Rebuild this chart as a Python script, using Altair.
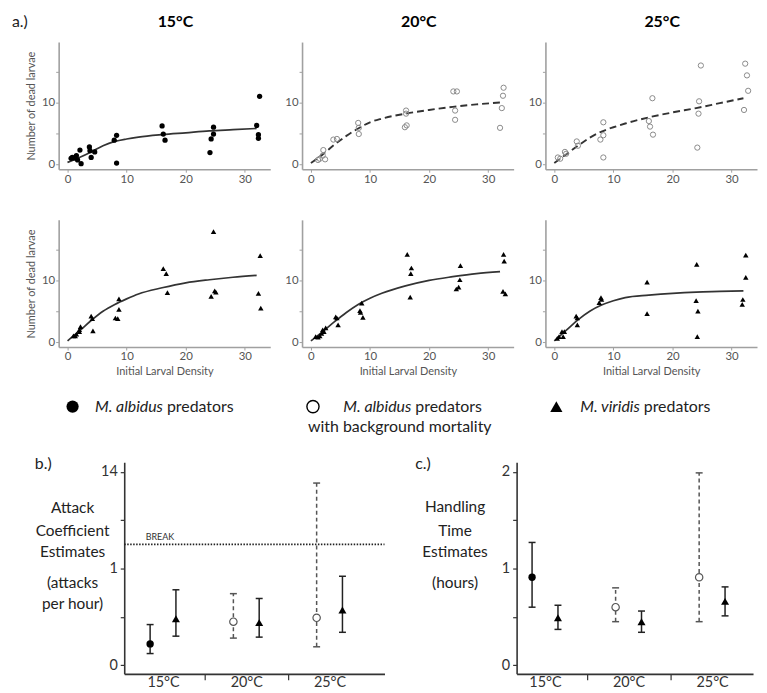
import altair as alt
import pandas as pd

FONT = "Lato"
AX = "#a0a0a0"
LAB = "#555555"
DARK = "#222222"

# ---------------- panel a: functional response data ----------------
curve_x = [0, 2, 4, 6, 8, 10, 12, 16, 20, 24, 28, 32]

a15_x = [0.6, 0.8, 1.1, 1.5, 1.7, 2.1, 2.3, 3.7, 3.8, 4.0, 4.6, 7.9, 8.3, 8.3,
         16.0, 16.2, 16.5, 24.1, 24.3, 24.7, 24.7, 32.5, 32.0, 32.3, 32.3]
a15_y = [0.97, 1.1, 1.0, 1.4, 0.7, 2.3, 0.1, 2.8, 2.2, 1.1, 2.0, 3.9, 4.7, 0.2,
         6.2, 4.9, 3.9, 1.9, 4.1, 6.0, 4.9, 11.0, 6.3, 4.8, 4.2]
a15_curve = [0.3, 1.1, 2.0, 3.0, 3.7, 4.1, 4.4, 4.8, 5.1, 5.4, 5.6, 5.8]

a20_x = [1.2, 1.5, 2.0, 2.1, 2.4, 3.8, 4.4, 8.0, 8.1, 8.1, 15.9, 16.2, 16.1, 16.1,
         24.1, 24.7, 24.4, 24.4, 32.0, 32.3, 32.5, 32.6]
a20_y = [0.7, 0.9, 1.4, 2.3, 0.8, 4.0, 4.1, 6.7, 5.9, 4.9, 6.0, 6.3, 8.7, 8.2,
         11.8, 11.8, 8.7, 7.2, 5.9, 9.1, 11.1, 12.4]
a20_curve = [0.2, 1.6, 3.2, 4.6, 5.8, 6.8, 7.4, 8.2, 8.8, 9.3, 9.7, 10.0]

a25_x = [0.6, 1.0, 1.8, 2.0, 3.8, 4.0, 7.8, 8.3, 8.3, 8.3, 16.0, 16.2, 16.7, 16.6,
         24.2, 24.4, 24.5, 24.8, 32.1, 32.3, 32.6, 32.8]
a25_y = [1.1, 0.9, 2.0, 1.7, 3.7, 3.0, 4.0, 6.8, 4.7, 1.1, 7.0, 6.1, 4.8, 10.7,
         2.7, 8.2, 10.2, 16.0, 8.8, 16.3, 14.4, 11.9]
a25_curve = [0.2, 1.6, 3.0, 4.3, 5.3, 6.0, 6.6, 7.6, 8.4, 9.1, 9.9, 10.7]

v15_x = [1.0, 1.3, 1.5, 2.0, 2.2, 2.0, 4.0, 4.2, 4.3, 8.1, 8.5, 8.7, 8.7,
         16.2, 16.7, 16.9, 24.3, 24.9, 25.1, 24.7, 32.6, 32.3, 32.7]
v15_y = [1.0, 1.0, 1.3, 2.0, 2.5, 1.7, 4.2, 3.8, 1.8, 3.9, 3.8, 7.0, 5.3,
         11.9, 11.1, 8.0, 7.4, 8.3, 8.1, 17.9, 14.0, 7.9, 5.5]
v15_curve = [0.2, 1.8, 3.5, 5.0, 6.1, 7.0, 7.8, 8.8, 9.6, 10.1, 10.5, 10.8]

v20_x = [0.8, 1.2, 1.5, 1.8, 2.0, 2.2, 2.5, 4.2, 4.4, 4.6, 8.3, 8.4, 8.6, 8.8,
         16.3, 17.0, 16.9, 16.8, 24.6, 25.0, 25.2, 25.3, 32.6, 32.7, 32.5, 32.9]
v20_y = [0.9, 0.8, 1.0, 1.4, 2.0, 1.7, 2.3, 4.1, 3.9, 2.8, 5.1, 4.8, 6.3, 4.0,
         14.2, 12.0, 11.1, 7.3, 8.6, 8.9, 10.1, 12.4, 14.2, 13.1, 8.2, 7.8]
v20_curve = [0.2, 1.7, 3.3, 4.8, 6.1, 7.1, 7.9, 9.1, 10.0, 10.6, 11.1, 11.4]

v25_x = [0.5, 0.8, 1.3, 1.5, 1.7, 3.7, 3.9, 3.9, 7.6, 7.9, 8.0, 15.7, 15.7,
         24.1, 24.0, 24.3, 24.2, 32.4, 32.4, 31.9, 31.8]
v25_y = [0.6, 0.9, 1.7, 0.9, 1.7, 4.2, 3.9, 2.8, 6.4, 7.2, 6.9, 9.7, 4.6,
         12.6, 6.7, 5.0, 0.9, 14.1, 10.5, 6.9, 6.1]
v25_curve = [0.2, 1.9, 3.6, 5.0, 6.0, 6.7, 7.2, 7.6, 7.9, 8.1, 8.2, 8.3]

# ---------------- panels b / c: estimates ----------------
temps = ["15°C", "20°C", "25°C"]
# M. albidus predators (filled circle) - 15°C only
alb_temp = ["15°C"]
atk_alb = [0.22]; atk_alb_lo = [0.12]; atk_alb_hi = [0.42]
hnd_alb = [0.91]; hnd_alb_lo = [0.60]; hnd_alb_hi = [1.27]
# M. albidus with background mortality (open circle) - 20, 25°C
bg_temp = ["20°C", "25°C"]
atk_bg = [0.45, 0.49]; atk_bg_lo = [0.28, 0.19]; atk_bg_hi = [0.74, 12.5]
hnd_bg = [0.60, 0.91]; hnd_bg_lo = [0.45, 0.45]; hnd_bg_hi = [0.80, 1.99]
# M. viridis predators (triangle)
vir_temp = ["15°C", "20°C", "25°C"]
atk_vir = [0.48, 0.44, 0.57]; atk_vir_lo = [0.30, 0.29, 0.34]; atk_vir_hi = [0.78, 0.69, 0.92]
hnd_vir = [0.49, 0.45, 0.66]; hnd_vir_lo = [0.37, 0.34, 0.51]; hnd_vir_hi = [0.62, 0.56, 0.81]

BREAK_POS = 1.25   # axis position of the break line
DODGE = 0.155

one = pd.DataFrame({"k": [0]})


def txt(text, x, y, size=15.0, style="normal", weight="normal", align="left",
        baseline="alphabetic", color=DARK):
    return alt.Chart(one).mark_text(
        text=text, fontSize=size, fontStyle=style, fontWeight=weight, align=align,
        baseline=baseline, color=color, font=FONT
    ).encode(x=alt.value(x), y=alt.value(y))


def sp(w, h):
    return alt.Chart(one).mark_point(opacity=0).encode(
        x=alt.value(0), y=alt.value(0)).properties(width=w, height=h)


def a_panel(px, py, cy, kind, title, ylab=False, xlab=False, dashed=False, extra=None):
    pts = pd.DataFrame({"x": px, "y": py})
    cur = pd.DataFrame({"x": curve_x, "y": cy})
    xsc = alt.Scale(domain=[-1.5, 34.3], nice=False, zero=False)
    ysc = alt.Scale(domain=[-0.8, 19.8], nice=False, zero=False)
    common = dict(domainColor=AX, domainWidth=1.6, tickColor=AX, tickWidth=1, tickSize=3,
                  labelColor=LAB, labelFontSize=11.5, labelFont=FONT, grid=False,
                  labelPadding=1, titleFont=FONT, titleFontSize=11, titleColor=LAB,
                  titleFontWeight="normal")
    xax = dict(common, values=[0, 10, 20, 30], title=None)
    if xlab:
        xax.update(title="Initial Larval Density", titlePadding=3)
    yax = dict(common, values=[0, 5, 10, 15], title=None,
               labelExpr="datum.value == 5 || datum.value == 15 ? '' : datum.label")
    if ylab:
        yax.update(title="Number of dead larvae", titleAngle=270, titleX=-27, titleY=64,
                   titleAlign="center", titleBaseline="middle")
    lkw = dict(color="#333333", strokeWidth=1.7, interpolate="monotone")
    if dashed:
        lkw.update(strokeDash=[7, 4], strokeWidth=1.9)
    line = alt.Chart(cur).mark_line(**lkw).encode(
        x=alt.X("x:Q", scale=xsc, axis=alt.Axis(**xax)),
        y=alt.Y("y:Q", scale=ysc, axis=alt.Axis(**yax)),
    )
    if kind == "filled":
        pm = alt.Chart(pts).mark_circle(size=28, color="black", opacity=1)
    elif kind == "open":
        pm = alt.Chart(pts).mark_point(size=28, color="#8a8a8a", filled=False,
                                       strokeWidth=1, opacity=1)
    else:
        pm = alt.Chart(pts).mark_point(shape="triangle-up", size=30, color="black",
                                       filled=True, opacity=1)
    pm = pm.encode(x="x:Q", y="y:Q")
    layers = [line, pm] + (extra or [])
    ch = alt.layer(*layers).properties(width=213, height=128)
    if title:
        ch = ch.properties(title=alt.TitleParams(
            text=title, font=FONT, fontSize=16, fontWeight="bold", color="black",
            dx=11, offset=12, anchor="middle"))
    return ch


def est_frame(alb, alb_lo, alb_hi, bg, bg_lo, bg_hi, vir, vir_lo, vir_hi, f):
    rows = []
    for t, e, lo, hi in zip(alb_temp, alb, alb_lo, alb_hi):
        rows.append(("alb", temps.index(t) + 1 - DODGE, f(e), f(lo), f(hi)))
    for t, e, lo, hi in zip(bg_temp, bg, bg_lo, bg_hi):
        rows.append(("bg", temps.index(t) + 1 - DODGE, f(e), f(lo), f(hi)))
    for t, e, lo, hi in zip(vir_temp, vir, vir_lo, vir_hi):
        rows.append(("vir", temps.index(t) + 1 + DODGE, f(e), f(lo), f(hi)))
    return pd.DataFrame(rows, columns=["series", "pos", "est", "lo", "hi"])


def brk(v):
    # broken axis: 0-1 linear, then 1-14 compressed into one unit
    return v if v <= 1 else 1 + (v - 1) / 13.0


def est_panel(df, xdom, x0, width, ylabel_expr, extra):
    # x0: left edge of the plot inside its grid cell
    xsc = alt.Scale(domain=xdom, nice=False, zero=False, range=[x0, x0 + width])
    ysc = alt.Scale(domain=[-0.09, 2.1], nice=False, zero=False)
    common = dict(domainColor="#333333", domainWidth=1.6, tickColor="#333333", tickWidth=1.2,
                  labelColor="#333333", labelFont=FONT, grid=False, title=None)
    xax = alt.Axis(values=[1, 1.5, 2, 2.5, 3], tickSize=6, labelPadding=-4, labelFontSize=14.5,
                   labelExpr="datum.value == 1 ? '15°C' : datum.value == 2 ? '20°C' : "
                             "datum.value == 3 ? '25°C' : ''",
                   tickOpacity={"condition": {"test": "datum.value % 1 != 0", "value": 1},
                                "value": 0},
                   **common)
    yax = alt.Axis(values=[0, 0.5, 1, 1.5, 2], tickSize=4, labelPadding=3, labelFontSize=14.5,
                   labelExpr=ylabel_expr, offset=-x0, **common)
    solid = df[df.series != "bg"]
    dash = df[df.series == "bg"]
    layers = []
    first = True
    for sub, kw in ((solid, dict(color=DARK)), (dash, dict(color="#555555", strokeDash=[4, 3]))):
        if first:
            enc = dict(x=alt.X("pos:Q", scale=xsc, axis=xax), y=alt.Y("lo:Q", scale=ysc, axis=yax))
            first = False
        else:
            enc = dict(x="pos:Q", y="lo:Q")
        layers.append(alt.Chart(sub).mark_rule(strokeWidth=1.5, **kw).encode(y2="hi:Q", **enc))
        for fld in ("lo", "hi"):
            layers.append(alt.Chart(sub).mark_rule(strokeWidth=1.5, xOffset=-3.5, x2Offset=3.5,
                                                   color=kw["color"])
                          .encode(x="pos:Q", x2="pos", y=f"{fld}:Q"))
    layers.append(alt.Chart(df[df.series == "alb"]).mark_circle(size=55, color="black", opacity=1)
                  .encode(x="pos:Q", y="est:Q"))
    layers.append(alt.Chart(dash).mark_point(shape="circle", filled=True, fill="white",
                                             stroke="#555555", strokeWidth=1.2, size=55, opacity=1)
                  .encode(x="pos:Q", y="est:Q"))
    layers.append(alt.Chart(df[df.series == "vir"]).mark_point(shape="triangle-up", filled=True,
                                                               color="black", size=65, opacity=1)
                  .encode(x="pos:Q", y="est:Q"))
    layers += extra
    return alt.layer(*layers).properties(width=213, height=213)


atk_df = est_frame(atk_alb, atk_alb_lo, atk_alb_hi, atk_bg, atk_bg_lo, atk_bg_hi,
                   atk_vir, atk_vir_lo, atk_vir_hi, brk)
hnd_df = est_frame(hnd_alb, hnd_alb_lo, hnd_alb_hi, hnd_bg, hnd_bg_lo, hnd_bg_hi,
                   hnd_vir, hnd_vir_lo, hnd_vir_hi, lambda v: v)

b_title = ["Attack", "Coefficient", "Estimates", "(attacks", "per hour)"]
b_title_y = [51, 74, 95, 127, 148]
c_title = ["Handling", "Time", "Estimates", "(hours)"]
c_title_y = [50, 74, 95, 127]

BX = 66    # plot b left inside its cell
CX = 216   # plot c left inside its cell


def legend_entry(species, pred_x, y=-51):
    # italic species name ending just before the upright word "predators"
    return [txt(species, BX + pred_x - 4, y, size=16, style="italic", align="right"),
            txt("predators", BX + pred_x, y, size=16)]


b_extra = [
    alt.Chart(one).mark_rule(strokeDash=[1.5, 1.5], strokeWidth=1.6, color=DARK)
    .encode(y=alt.datum(BREAK_POS), x=alt.value(BX), x2=alt.value(BX + 262)),
    txt("BREAK", BX + 36, 75, size=9, align="center", baseline="middle", color="#333333"),
    txt("b.)", BX - 90, 7, size=16),
    # legend
    alt.Chart(one).mark_circle(size=150, color="black", opacity=1)
    .encode(x=alt.value(BX - 52), y=alt.value(-56)),
    alt.Chart(one).mark_point(shape="circle", size=150, filled=True, fill="white", stroke="black",
                              strokeWidth=1.4, opacity=1)
    .encode(x=alt.value(BX + 190), y=alt.value(-56)),
    txt("with background mortality", BX + 185, -30, size=16),
    alt.Chart(one).mark_point(shape="triangle-up", size=150, filled=True, color="black", opacity=1)
    .encode(x=alt.value(BX + 435), y=alt.value(-56)),
] + legend_entry("M. albidus", 43) + legend_entry("M. albidus", 293) + \
    legend_entry("M. viridis", 523) + \
    [txt(t, BX - 52, y, size=15.5, align="center") for t, y in zip(b_title, b_title_y)]

c_extra = [txt("c.)", CX - 102, 7, size=16)] + \
    [txt(t, CX - 62, y, size=15.5, align="center") for t, y in zip(c_title, c_title_y)]

panel_b = est_panel(atk_df, [0.534, 3.66], BX, 262,
                    "datum.value == 0 ? '0' : datum.value == 1 ? '1' : datum.value == 2 ? '14' : ''",
                    b_extra)
panel_c = est_panel(hnd_df, [0.66, 3.49], CX, 238,
                    "datum.value == 0 ? '0' : datum.value == 1 ? '1' : datum.value == 2 ? '2' : ''",
                    c_extra)

# "a.)" tag is drawn from the second row so it does not push the row-one titles
a_tag = [txt("a.)", -47, -194, size=16)]

# 3-column grid: row a, gap, row a (viridis), gap, row b/c
items = [
    a_panel(a15_x, a15_y, a15_curve, "filled", "15°C", ylab=True),
    a_panel(a20_x, a20_y, a20_curve, "open", "20°C", dashed=True),
    a_panel(a25_x, a25_y, a25_curve, "open", "25°C", dashed=True),
    sp(1, 51), sp(1, 51), sp(1, 51),
    a_panel(v15_x, v15_y, v15_curve, "tri", None, ylab=True, xlab=True, extra=a_tag),
    a_panel(v20_x, v20_y, v20_curve, "tri", None, xlab=True),
    a_panel(v25_x, v25_y, v25_curve, "tri", None, xlab=True),
    sp(1, 116), sp(1, 116), sp(1, 116),
    panel_b, panel_c, sp(1, 213),
]

chart = alt.concat(*items, columns=3, spacing={"row": 0, "column": 32}, bounds="flush").properties(
    padding={"left": 4, "top": 4, "right": 2, "bottom": 0}
).configure(font=FONT).configure_view(strokeWidth=0)

chart.save("out.html", embed_options={"renderer": "svg", "actions": False})
